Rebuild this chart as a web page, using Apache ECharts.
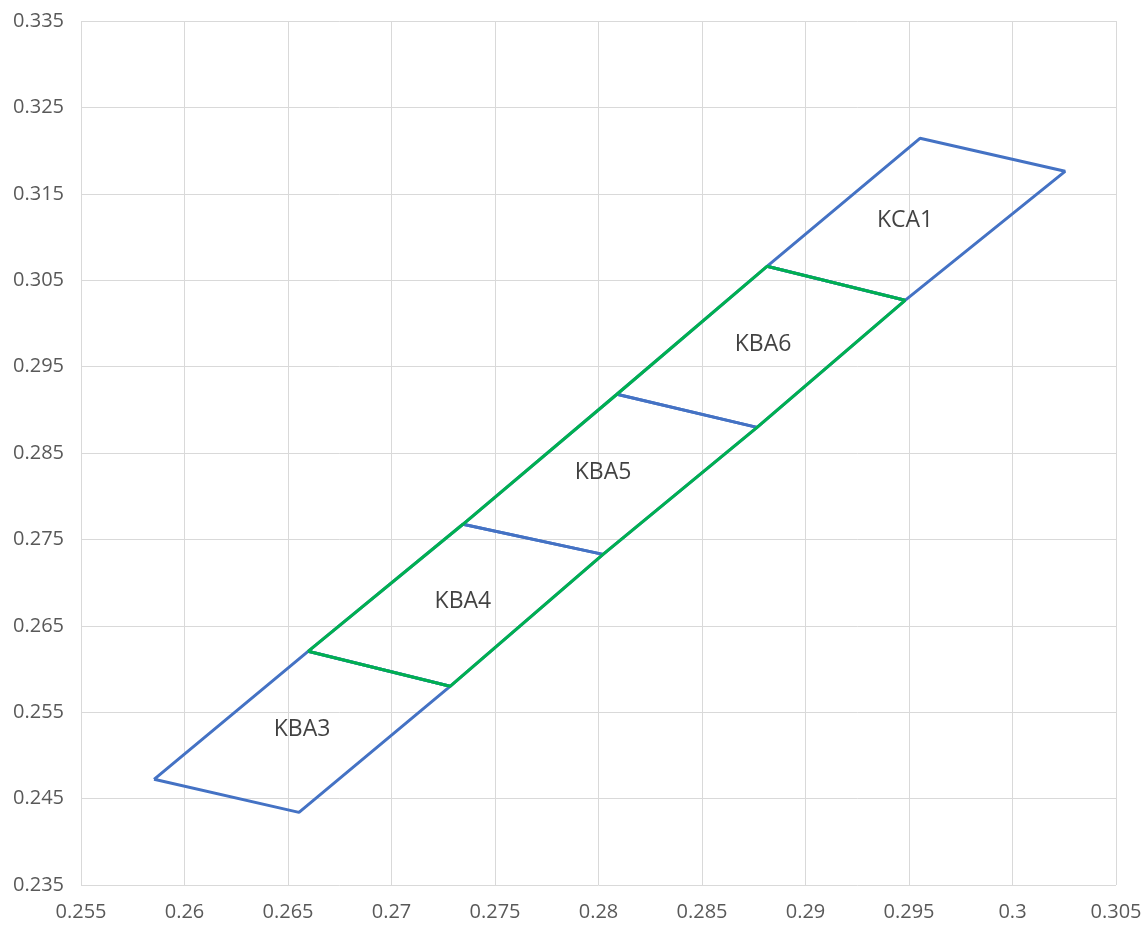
<!DOCTYPE html>
<html>
<head>
<meta charset="utf-8">
<script src="https://cdn.jsdelivr.net/npm/echarts@6/dist/echarts.min.js"></script>
<style>
html,body{margin:0;padding:0;background:#fff;}
#chart{width:1145px;height:926px;}
</style>
</head>
<body>
<div id="chart"></div>
<script>
// Bin names (bottom to top)
var binNames = ['KBA3', 'KBA4', 'KBA5', 'KBA6', 'KCA1'];
// Label anchor points for each bin
var labelX = [0.26568, 0.27345, 0.28022, 0.28795, 0.29481];
var labelY = [0.25296, 0.26784, 0.28277, 0.29758, 0.31193];
// Upper-left edge boundary points
var leftEdgeX = [0.25853, 0.26597, 0.27345, 0.28089, 0.28814, 0.29553];
var leftEdgeY = [0.24723, 0.26205, 0.27675, 0.29180, 0.30661, 0.32142];
// Lower-right edge boundary points
var rightEdgeX = [0.26553, 0.27283, 0.28022, 0.28766, 0.29481, 0.30254];
var rightEdgeY = [0.24341, 0.25800, 0.27327, 0.28797, 0.30267, 0.31760];
// Green group outline: from boundary index 1 to 4
var groupFrom = 1, groupTo = 4;
// Axis ranges
var xMin = 0.255, xMax = 0.305, xStep = 0.005;
var yMin = 0.235, yMax = 0.335, yStep = 0.01;

function L(i){ return [leftEdgeX[i], leftEdgeY[i]]; }
function R(i){ return [rightEdgeX[i], rightEdgeY[i]]; }

var series = [];
var labels = [];
binNames.forEach(function(name, i){
  var pts = [L(i), L(i+1), R(i+1), R(i)];
  series.push({
    type: 'line', name: name, data: pts.concat([pts[0]]),
    showSymbol: false, symbol: 'none', silent: true,
    lineStyle: { color: '#4472C4', width: 3 }, z: 2
  });
  labels.push({ value: [labelX[i], labelY[i]], name: name });
});
var green = [];
for (var i = groupFrom; i <= groupTo; i++) green.push(L(i));
for (var j = groupTo; j >= groupFrom; j--) green.push(R(j));
green.push(L(groupFrom));
series.push({
  type: 'line', name: 'group', data: green,
  showSymbol: false, symbol: 'none', silent: true,
  lineStyle: { color: '#00B050', width: 3 }, z: 3
});
series.push({
  type: 'scatter', data: labels, symbolSize: 0, silent: true, z: 4,
  label: {
    show: true, position: 'inside', formatter: function(p){ return p.name; },
    color: '#111111', fontSize: 23, fontFamily: 'Open Sans'
  }
});

function fmt(v){ return String(parseFloat(v.toFixed(4))); }

var chart = echarts.init(document.getElementById('chart'), null, { renderer: 'canvas' });
chart.setOption({
  animation: false,
  backgroundColor: '#ffffff',
  grid: { left: 81, right: 29, top: 21, bottom: 41, containLabel: false },
  xAxis: {
    type: 'value', min: xMin, max: xMax, interval: xStep,
    axisLine: { show: false }, axisTick: { show: false },
    axisLabel: { formatter: fmt, color: '#595959', fontSize: 20, fontFamily: 'Open Sans', margin: 17 },
    splitLine: { show: true, showMinLine: true, showMaxLine: true, lineStyle: { color: '#d9d9d9', width: 1 } }
  },
  yAxis: {
    type: 'value', min: yMin, max: yMax, interval: yStep,
    axisLine: { show: false }, axisTick: { show: false },
    axisLabel: { formatter: fmt, color: '#595959', fontSize: 20, fontFamily: 'Open Sans', margin: 17 },
    splitLine: { show: true, showMinLine: true, showMaxLine: true, lineStyle: { color: '#d9d9d9', width: 1 } }
  },
  series: series
});
</script>
</body>
</html>
